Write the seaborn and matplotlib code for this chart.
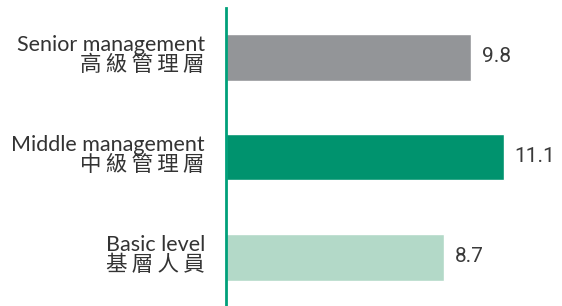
import matplotlib
matplotlib.use("Agg")
import matplotlib.pyplot as plt
import seaborn as sns
import pandas as pd

# data
labels_en = ["Senior management", "Middle management", "Basic level"]
labels_zh = ["高級管理層", "中級管理層", "基層人員"]
values = [9.8, 11.1, 8.7]
colors = ["#939598", "#00936e", "#b3d9c8"]

sns.set_theme(style="white")
plt.rcParams['font.family'] = ['Lato', 'Noto Sans CJK TC', 'DejaVu Sans']

df = pd.DataFrame({"cat": labels_en, "val": values})

fig = plt.figure(figsize=(5.62, 3.06), dpi=100)
ax = fig.add_axes([226 / 562, 0.0, 1 - 226 / 562, 298 / 306])

sns.barplot(data=df, y="cat", x="val", hue="cat", palette=colors,
            width=0.47, legend=False, ax=ax, saturation=1)

for c in ax.containers:
    ax.bar_label(c, fmt="%.1f", padding=8, fontsize=15, color="#3a3a3a",
                 family=["Roboto", "DejaVu Sans"])

# two-line category labels, english over chinese
for i, (en, zh) in enumerate(zip(labels_en, labels_zh)):
    ax.annotate(en, xy=(0, i), xycoords=("axes fraction", "data"),
                xytext=(-21, 6), textcoords="offset pixels",
                ha="right", va="baseline", fontsize=15.5, color="#333333")
    ax.annotate("\u2009".join(zh), xy=(0, i), xycoords=("axes fraction", "data"),
                xytext=(-21, -8), textcoords="offset pixels",
                ha="right", va="center", fontsize=15.5, color="#333333",
                family=["Noto Sans CJK TC", "DejaVu Sans"])

ax.set_xlim(0, 13.44)
ax.set_ylim(2.49, -0.49)
ax.set_xlabel("")
ax.set_ylabel("")
ax.set_xticks([])
ax.set_yticks([])

for s in ["top", "right", "bottom"]:
    ax.spines[s].set_visible(False)
ax.spines["left"].set_color("#00a07a")
ax.spines["left"].set_linewidth(2)

fig.savefig("out.png", dpi=100)
